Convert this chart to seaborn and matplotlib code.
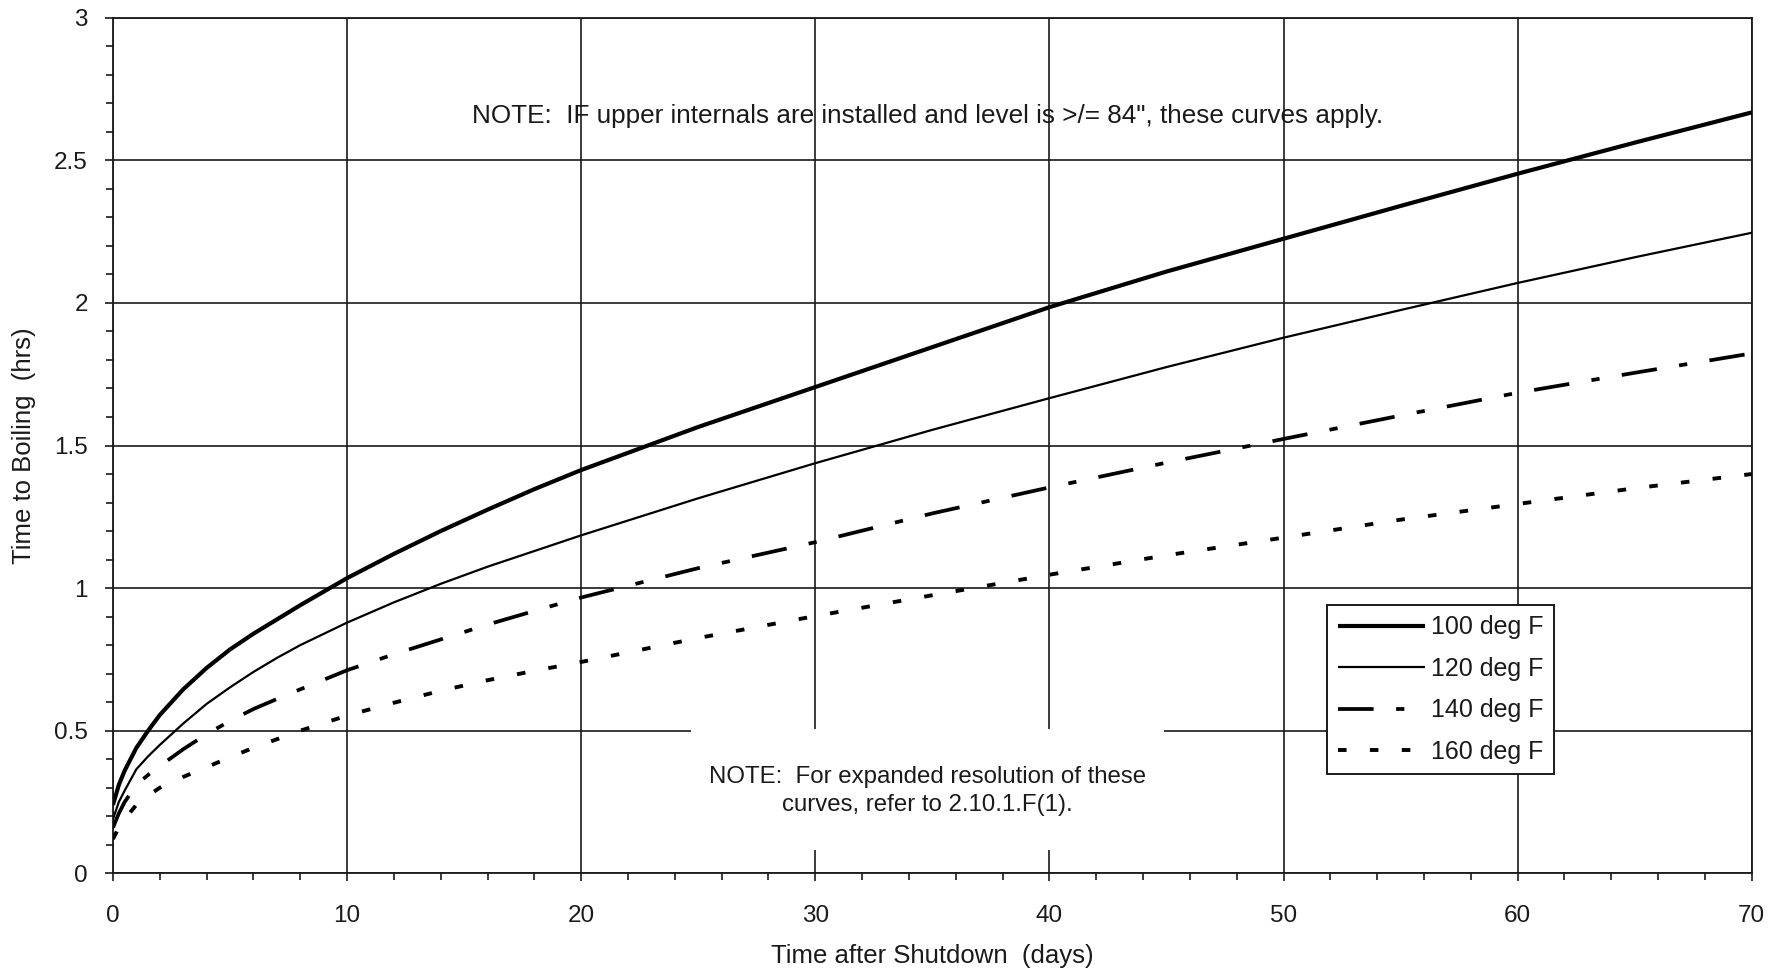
import matplotlib
matplotlib.use("Agg")
import matplotlib.pyplot as plt
from matplotlib.patches import Rectangle
from matplotlib.ticker import MultipleLocator
import seaborn as sns

# ---- data ----
days = [0, 0.25, 0.5, 1, 1.5, 2, 3, 4, 5, 6, 7, 8, 10, 12, 14, 16, 18, 20, 25, 30, 35, 40,
        45, 50, 55, 60, 65, 70]
t100 = [0.24, 0.31, 0.36, 0.44, 0.50, 0.555, 0.645, 0.72, 0.785, 0.84, 0.89, 0.94, 1.035,
        1.12, 1.20, 1.275, 1.347, 1.414, 1.565, 1.705, 1.845, 1.985, 2.11, 2.225, 2.34, 2.453,
        2.562, 2.668]
t120 = [0.19, 0.25, 0.29, 0.365, 0.41, 0.45, 0.525, 0.594, 0.652, 0.706, 0.755, 0.80, 0.879,
        0.95, 1.015, 1.075, 1.13, 1.185, 1.315, 1.438, 1.555, 1.666, 1.775, 1.878, 1.975,
        2.07, 2.16, 2.246]
t140 = [0.16, 0.21, 0.25, 0.31, 0.345, 0.376, 0.435, 0.488, 0.534, 0.576, 0.611, 0.645, 0.712,
        0.768, 0.82, 0.872, 0.92, 0.967, 1.07, 1.161, 1.262, 1.353, 1.44, 1.523, 1.605,
        1.685, 1.755, 1.823]
t160 = [0.12, 0.16, 0.19, 0.24, 0.272, 0.30, 0.338, 0.372, 0.407, 0.44, 0.47, 0.50, 0.553,
        0.598, 0.64, 0.677, 0.71, 0.741, 0.825, 0.902, 0.975, 1.047, 1.115, 1.177, 1.24,
        1.295, 1.35, 1.40]
series_labels = ["100 deg F", "120 deg F", "140 deg F", "160 deg F"]
xticks = [0, 10, 20, 30, 40, 50, 60, 70]
yticks = [0, 0.5, 1, 1.5, 2, 2.5, 3]
ytick_labels = ["0", "0.5", "1", "1.5", "2", "2.5", "3"]
note_top = 'NOTE:  IF upper internals are installed and level is >/= 84", these curves apply.'
note_bottom = "NOTE:  For expanded resolution of these\ncurves, refer to 2.10.1.F(1)."
xlabel = "Time after Shutdown  (days)"
ylabel = "Time to Boiling  (hrs)"

# ---- style ----
sns.set_theme(style="ticks")
plt.rcParams["font.family"] = ["Liberation Sans", "DejaVu Sans"]
ink = "#1a1a1a"

fig = plt.figure(figsize=(17.79, 9.74), dpi=100)
fig.patch.set_facecolor("white")
ax = fig.add_axes([0.0635, 0.1034, 0.9212, 0.8784])
ax.set_facecolor("white")

styles = [
    dict(linewidth=3.0, linestyle="-"),
    dict(linewidth=1.6, linestyle="-"),
    dict(linewidth=2.7, linestyle=(0, (9.5, 6.0, 2.2, 6.0))),
    dict(linewidth=2.8, linestyle=(0, (2.2, 6.0))),
]
for ys, lab, st in zip([t100, t120, t140, t160], series_labels, styles):
    sns.lineplot(x=days, y=ys, ax=ax, color="black", label=lab, zorder=4,
                 solid_capstyle="butt", dash_capstyle="butt", **st)

ax.set_xlim(0, 70)
ax.set_ylim(0, 3)
ax.set_xticks(xticks)
ax.set_yticks(yticks)
ax.set_yticklabels(ytick_labels)
ax.xaxis.set_minor_locator(MultipleLocator(2))
ax.yaxis.set_minor_locator(MultipleLocator(0.1))
ax.tick_params(axis="both", which="major", direction="out", length=6, width=1.2,
               color=ink, labelsize=17.5, labelcolor=ink)
ax.tick_params(axis="x", which="major", pad=17)
ax.tick_params(axis="y", which="major", pad=12)
ax.tick_params(axis="both", which="minor", direction="out", length=5, width=1.2, color=ink)

ax.grid(True, which="major", color=ink, linewidth=1.2)
ax.set_axisbelow(True)
for sp in ax.spines.values():
    sp.set_color(ink)
    sp.set_linewidth(1.3)

ax.set_xlabel(xlabel, fontsize=18.5, color=ink, labelpad=12)
ax.set_ylabel(ylabel, fontsize=18.5, color=ink, labelpad=13)

# white box behind the lower note (breaks the grid)
ax.add_patch(Rectangle((24.7, 0.08), 20.2, 0.425, facecolor="white", edgecolor="none", zorder=2))
ax.text(34.8, 0.29, note_bottom, ha="center", va="center", fontsize=17.3, color=ink,
        linespacing=1.35, zorder=3)
ax.text(34.8, 2.655, note_top, ha="center", va="center", fontsize=18.8, color=ink, zorder=3)

leg = ax.legend(loc="upper left", bbox_to_anchor=(0.7408, 0.3136), borderaxespad=0,
                fontsize=18, handlelength=3.5, handletextpad=0.25, labelspacing=0.7,
                borderpad=0.42, frameon=True, fancybox=False, framealpha=1,
                edgecolor=ink)
leg.get_frame().set_linewidth(1.4)
leg.set_zorder(6)
for t in leg.get_texts():
    t.set_color(ink)

fig.savefig("out.png", dpi=100, facecolor="white")
